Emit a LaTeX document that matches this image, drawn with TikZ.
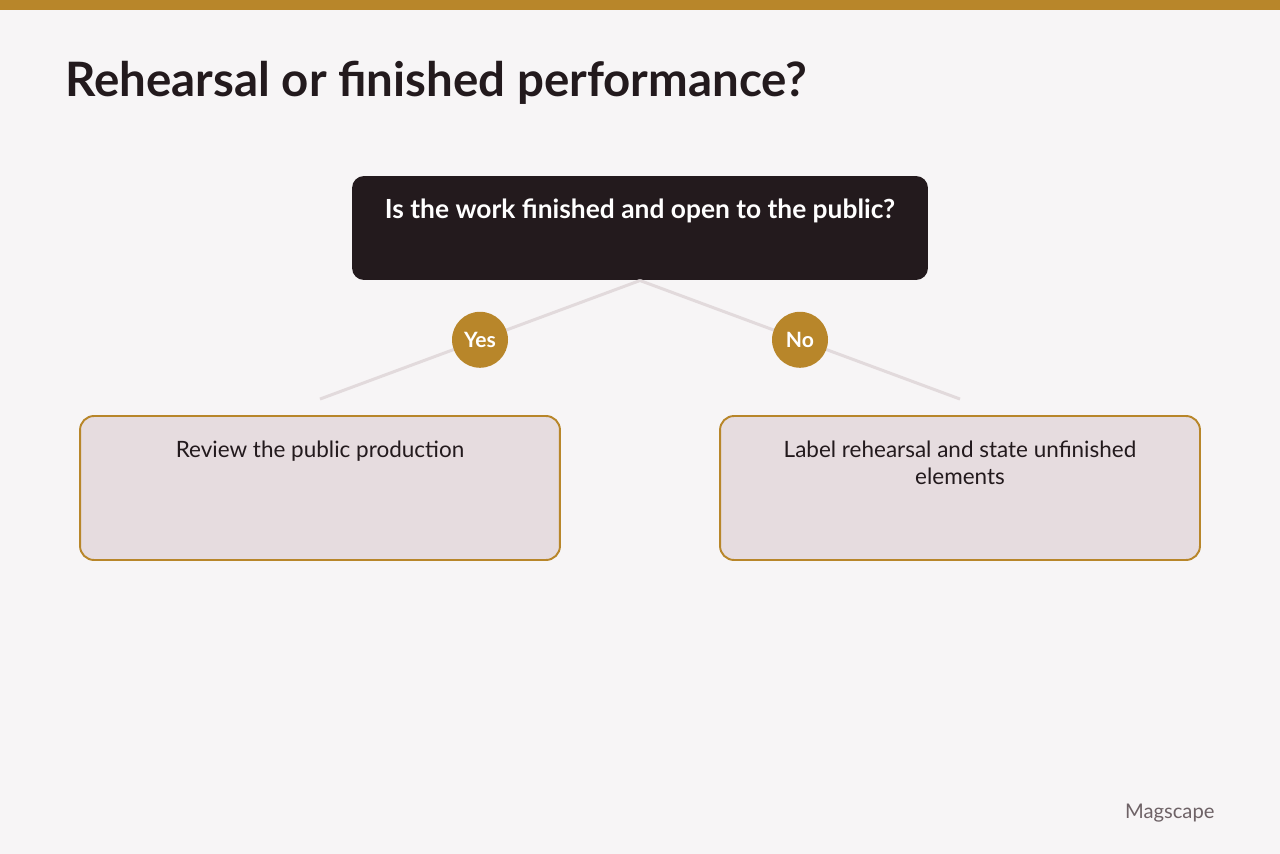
\documentclass[tikz,border=0pt]{standalone}
\usepackage{fontspec}
\setmainfont{Lato}
\usetikzlibrary{positioning}

\definecolor{gold}{HTML}{B8862A}
\definecolor{ink}{HTML}{231A1D}
\definecolor{paper}{HTML}{F7F5F6}
\definecolor{answerfill}{HTML}{E6DCDF}
\definecolor{branchline}{HTML}{E2DADC}
\definecolor{brand}{HTML}{6E6266}

\begin{document}
\begin{tikzpicture}[
    x = 0.02cm,
    y = -0.02cm,
    node distance = 0.5cm,
    semithick,
    ]

    \tikzstyle{question}=[
    fill = ink,
    rounded corners = 0.24cm,
    minimum width = 11.52cm,
    minimum height = 2.08cm,
    ]
    \tikzstyle{answer}=[
    draw = gold,
    line width = 1.1pt,
    fill = answerfill,
    rounded corners = 0.28cm,
    minimum width = 9.6cm,
    minimum height = 2.88cm,
    ]
    \tikzstyle{choice}=[
    circle,
    fill = gold,
    minimum size = 1.12cm,
    inner sep = 0pt,
    text = white,
    font = \bfseries\fontsize{12}{14}\selectfont,
    ]
    \tikzstyle{branch}=[draw = branchline, line width = 1.7pt]

    \fill[paper] (0,0) rectangle (1280,854);
    \fill[gold] (0,0) rectangle (1280,10);

    \node[anchor=base west, inner sep=0pt, text=ink,
      font=\bfseries\fontsize{27}{32}\selectfont] (title) at (65,97)
      {Rehearsal or finished performance?};

    \node[question] (q) at (640,228) {};
    \node[below=0.46cm of q.north, inner sep=0pt, text=white,
      font=\bfseries\fontsize{15}{18}\selectfont] (qtext)
      {Is the work finished and open to the public?};

    \node[answer] (yes) at (320,488) {};
    \node[answer] (no) at (960,488) {};
    \node[below=of yes.north, inner sep=0pt, text=ink,
      font=\fontsize{12.8}{16}\selectfont] (yestext)
      {Review the public production};
    \node[below=of no.north, inner sep=0pt, text=ink, align=center,
      font=\fontsize{12.8}{15.5}\selectfont] (notext)
      {Label rehearsal and state unfinished\\ elements};

    \coordinate[above=0.32cm of yes.north] (yesend);
    \coordinate[above=0.32cm of no.north] (noend);

    \path[branch] (q.south) edge node[choice] {Yes} (yesend);
    \path[branch] (q.south) edge node[choice] {No} (noend);

    \node[anchor=base east, inner sep=0pt, text=brand,
      font=\fontsize{11.5}{14}\selectfont] (brand) at (1215,818) {Magscape};
\end{tikzpicture}
\end{document}
